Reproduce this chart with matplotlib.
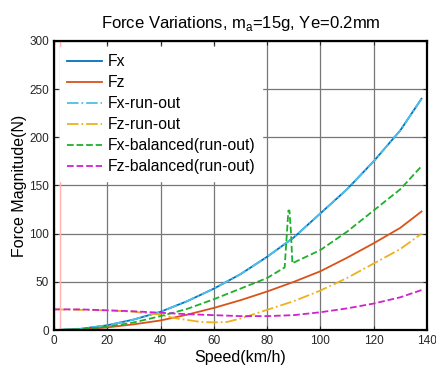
import numpy as np
import matplotlib
matplotlib.use('Agg')
import matplotlib.pyplot as plt

plt.rcParams['font.family'] = ['Liberation Sans', 'DejaVu Sans']

# speed (km/h)
speed = [0, 10, 20, 30, 40, 50, 60, 70, 80, 90, 100, 110, 120, 130, 138]
fx = [0, 1.3, 5, 11, 19, 30, 43, 58, 76, 96, 121, 146, 175, 207, 240]
fz = [0, 0.7, 2.8, 6, 10, 16, 23, 31, 40, 50, 61, 75, 90, 106, 123]
fx_runout = [0, 1.3, 5, 11, 19, 30, 43, 58, 76, 96, 121, 146, 175, 207, 240]

speed_fzr = [0, 10, 20, 30, 40, 45, 50, 55, 60, 65, 70, 80, 90, 100, 110, 120, 130, 138]
fz_runout = [21.5, 21, 20.5, 19, 16, 12.5, 10.5, 8.5, 8, 8.5, 12, 21, 30, 41, 54, 69, 84, 100]

speed_bal = [0, 10, 20, 30, 40, 50, 60, 70, 80, 86.6, 88.0, 88.4, 89.0, 89.5, 90, 100, 110, 120, 130, 138]
fx_bal = [0, 1, 3.5, 8, 14.5, 22, 32, 43, 54, 65, 124, 124, 100, 69, 70, 83, 102, 124, 146, 170]
fz_bal = [21.5, 21.5, 20.5, 19.5, 18, 16.5, 15.5, 14.5, 14.5, 15.5, 18.5, 22.5, 27.5, 34, 41.5]

fig = plt.figure(figsize=(4.36, 3.68), dpi=100)
ax = fig.add_axes([0.124, 0.103, 0.855, 0.786])

ax.plot(speed, fx, '-', color='#0072BD', lw=1.3, label='Fx')
ax.plot(speed, fz, '-', color='#D95319', lw=1.3, label='Fz')
ax.plot(speed, fx_runout, '-.', color='#4DBEEE', lw=1.3, label='Fx-run-out')
ax.plot(speed_fzr, fz_runout, '-.', color='#EDB120', lw=1.3, label='Fz-run-out')
ax.plot(speed_bal, fx_bal, '--', color='#1fb02a', lw=1.3, label='Fx-balanced(run-out)')
ax.plot(speed, fz_bal, '--', color='#d020d0', lw=1.3, label='Fz-balanced(run-out)')
ax.axvline(2.2, color='#ffb0b0', lw=1)

ax.set_xlim(0, 140)
ax.set_ylim(0, 300)
ax.set_xticks(np.arange(0, 141, 20))
ax.set_yticks(np.arange(0, 301, 50))
ax.grid(True, color='#777777', lw=0.9)
ax.set_axisbelow(True)
ax.tick_params(direction='in', top=True, right=True, length=3, labelsize=8.5,
               colors='#262626')
for s in ax.spines.values():
    s.set_linewidth(1.6)
    s.set_color('black')

ax.set_xlabel('Speed(km/h)', fontsize=11.5, labelpad=2)
ax.set_ylabel('Force Magnitude(N)', fontsize=11.5, labelpad=2)
ax.set_title('Force Variations, m$_\\mathregular{a}$=15g, Ye=0.2mm', fontsize=12, pad=9)

leg = ax.legend(loc='upper left', fontsize=11.3, handlelength=2.2, labelspacing=0.38,
                borderaxespad=0.4, frameon=True, fancybox=False, framealpha=1,
                borderpad=0.45, handletextpad=0.35)
leg.get_frame().set_edgecolor('white')
leg.get_frame().set_facecolor('white')

fig.savefig('out.png', dpi=100)
